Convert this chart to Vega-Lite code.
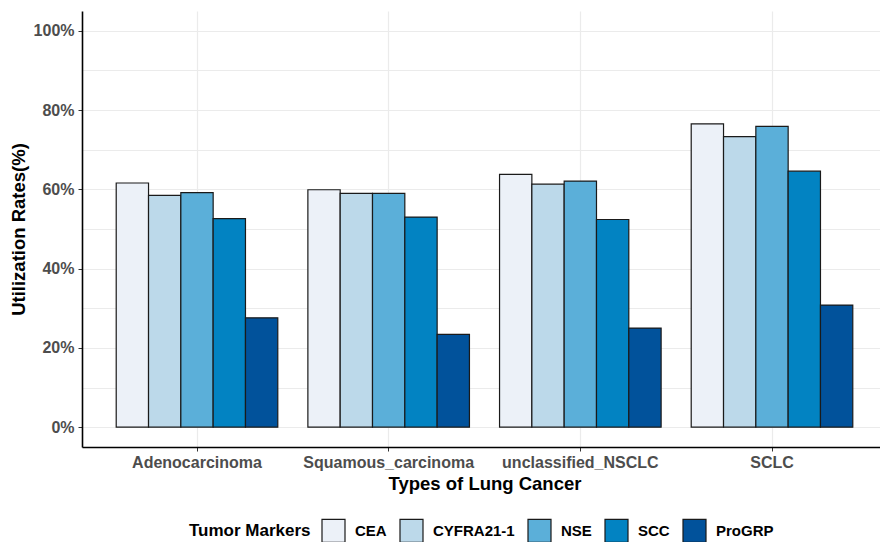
{
  "$schema": "https://vega.github.io/schema/vega-lite/v6.json",
  "width": 805,
  "height": 436,
  "autosize": "none",
  "padding": {"left": 82, "top": 11, "right": 0, "bottom": 95},
  "background": "white",
  "config": {
    "view": {"stroke": null},
    "font": "Liberation Sans"
  },
  "data": {
    "values": [
      {"type": "Adenocarcinoma", "marker": "CEA", "rate": 61.6},
      {"type": "Adenocarcinoma", "marker": "CYFRA21-1", "rate": 58.5},
      {"type": "Adenocarcinoma", "marker": "NSE", "rate": 59.2},
      {"type": "Adenocarcinoma", "marker": "SCC", "rate": 52.6},
      {"type": "Adenocarcinoma", "marker": "ProGRP", "rate": 27.6},
      {"type": "Squamous_carcinoma", "marker": "CEA", "rate": 59.9},
      {"type": "Squamous_carcinoma", "marker": "CYFRA21-1", "rate": 59.0},
      {"type": "Squamous_carcinoma", "marker": "NSE", "rate": 59.0},
      {"type": "Squamous_carcinoma", "marker": "SCC", "rate": 53.0},
      {"type": "Squamous_carcinoma", "marker": "ProGRP", "rate": 23.4},
      {"type": "unclassified_NSCLC", "marker": "CEA", "rate": 63.8},
      {"type": "unclassified_NSCLC", "marker": "CYFRA21-1", "rate": 61.3},
      {"type": "unclassified_NSCLC", "marker": "NSE", "rate": 62.1},
      {"type": "unclassified_NSCLC", "marker": "SCC", "rate": 52.4},
      {"type": "unclassified_NSCLC", "marker": "ProGRP", "rate": 25.0},
      {"type": "SCLC", "marker": "CEA", "rate": 76.5},
      {"type": "SCLC", "marker": "CYFRA21-1", "rate": 73.3},
      {"type": "SCLC", "marker": "NSE", "rate": 75.9},
      {"type": "SCLC", "marker": "SCC", "rate": 64.6},
      {"type": "SCLC", "marker": "ProGRP", "rate": 30.8}
    ]
  },
  "mark": {"type": "bar", "stroke": "#1a1a1a", "strokeWidth": 1.2},
  "encoding": {
    "x": {
      "field": "type",
      "type": "nominal",
      "sort": ["Adenocarcinoma", "Squamous_carcinoma", "unclassified_NSCLC", "SCLC"],
      "scale": {"paddingInner": 0.157, "paddingOuter": 0.1785},
      "axis": {
        "title": "Types of Lung Cancer",
        "labelAngle": 0,
        "bandPosition": 0.5,
        "grid": true,
        "gridColor": "#ebebeb",
        "gridWidth": 1.2,
        "domainColor": "#000000",
        "domainWidth": 1.6,
        "tickColor": "#333333",
        "tickSize": 4,
        "labelPadding": 3,
        "labelFont": "Liberation Sans",
        "labelFontSize": 16,
        "labelFontWeight": "bold",
        "labelColor": "#4d4d4d",
        "titleFont": "Liberation Sans",
        "titleFontSize": 18.5,
        "titleFontWeight": "bold",
        "titleColor": "#000000",
        "titlePadding": 4
      }
    },
    "xOffset": {
      "field": "marker",
      "type": "nominal",
      "sort": ["CEA", "CYFRA21-1", "NSE", "SCC", "ProGRP"],
      "scale": {"paddingInner": 0, "paddingOuter": 0}
    },
    "y": {
      "field": "rate",
      "type": "quantitative",
      "scale": {"domain": [-5, 105], "nice": false, "zero": false},
      "axis": {
        "title": "Utilization Rates(%)",
        "values": [0, 10, 20, 30, 40, 50, 60, 70, 80, 90, 100],
        "labelExpr": "datum.value % 20 === 0 ? datum.value + '%' : ''",
        "grid": true,
        "gridColor": "#ebebeb",
        "gridWidth": 1.2,
        "domainColor": "#000000",
        "domainWidth": 1.6,
        "tickColor": {"condition": {"test": "datum.value % 20 !== 0", "value": "transparent"}, "value": "#333333"},
        "tickSize": 4,
        "labelPadding": 4,
        "labelFont": "Liberation Sans",
        "labelFontSize": 16,
        "labelFontWeight": "bold",
        "labelColor": "#4d4d4d",
        "titleFont": "Liberation Sans",
        "titleFontSize": 18.5,
        "titleFontWeight": "bold",
        "titleColor": "#000000",
        "titlePadding": 5
      }
    },
    "fill": {
      "field": "marker",
      "type": "nominal",
      "sort": ["CEA", "CYFRA21-1", "NSE", "SCC", "ProGRP"],
      "scale": {
        "domain": ["CEA", "CYFRA21-1", "NSE", "SCC", "ProGRP"],
        "range": ["#ecf1f8", "#bcd9ea", "#5bafd9", "#0283c2", "#01529b"]
      },
      "legend": {
        "title": "Tumor Markers",
        "orient": "none",
        "direction": "horizontal",
        "legendX": 107,
        "legendY": 507,
        "titleOrient": "left",
        "titleAnchor": "middle",
        "titleBaseline": "middle",
        "titlePadding": 10,
        "titleFont": "Liberation Sans",
        "titleFontSize": 17,
        "titleFontWeight": "bold",
        "titleColor": "#000000",
        "symbolType": "square",
        "symbolSize": 529,
        "symbolStrokeColor": "#1a1a1a",
        "symbolStrokeWidth": 1.2,
        "symbolOpacity": 1,
        "labelFont": "Liberation Sans",
        "labelFontSize": 15,
        "labelFontWeight": "bold",
        "labelColor": "#000000",
        "labelOffset": 9,
        "columnPadding": 10
      }
    }
  }
}
